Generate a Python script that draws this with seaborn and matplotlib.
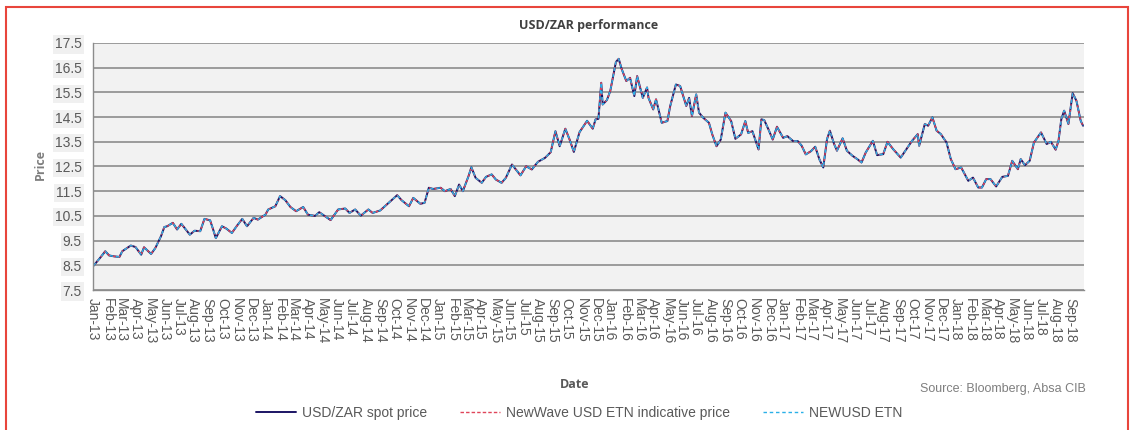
import pandas as pd
import matplotlib.pyplot as plt
import matplotlib.dates as mdates
from matplotlib.patches import Rectangle
import seaborn as sns

# =====================
# DATOS
# =====================

dates = [
    "2013-01-02", "2013-01-16", "2013-01-27", "2013-02-04", "2013-02-15", "2013-02-26",
    "2013-03-04", "2013-03-22", "2013-04-01", "2013-04-13", "2013-04-19", "2013-05-04",
    "2013-05-13", "2013-05-25", "2013-06-01", "2013-06-07", "2013-06-19", "2013-06-28",
    "2013-07-07", "2013-07-25", "2013-08-04", "2013-08-16", "2013-08-25", "2013-09-06",
    "2013-09-12", "2013-09-18", "2013-10-01", "2013-10-10", "2013-10-22", "2013-11-01",
    "2013-11-13", "2013-11-23", "2013-12-07", "2013-12-16", "2014-01-01", "2014-01-07",
    "2014-01-22", "2014-02-01", "2014-02-12", "2014-02-23", "2014-03-07", "2014-03-22",
    "2014-04-01", "2014-04-16", "2014-04-25", "2014-05-07", "2014-05-19", "2014-06-04",
    "2014-06-19", "2014-06-28", "2014-07-10", "2014-07-22", "2014-08-07", "2014-08-16",
    "2014-09-01", "2014-09-19", "2014-10-07", "2014-10-16", "2014-11-01", "2014-11-10",
    "2014-11-25", "2014-12-04", "2014-12-13", "2014-12-22", "2015-01-07", "2015-01-16",
    "2015-01-28", "2015-02-06", "2015-02-15", "2015-02-23", "2015-03-07", "2015-03-13",
    "2015-03-22", "2015-04-04", "2015-04-13", "2015-04-25", "2015-05-04", "2015-05-16",
    "2015-05-25", "2015-06-07", "2015-06-25", "2015-07-07", "2015-07-19", "2015-08-01",
    "2015-08-16", "2015-08-28", "2015-09-07", "2015-09-16", "2015-09-28", "2015-10-07",
    "2015-10-16", "2015-10-28", "2015-11-13", "2015-11-25", "2015-12-01", "2015-12-07",
    "2015-12-13", "2015-12-16", "2015-12-25", "2016-01-01", "2016-01-13", "2016-01-19",
    "2016-01-25", "2016-02-04", "2016-02-12", "2016-02-21", "2016-02-27", "2016-03-10",
    "2016-03-19", "2016-03-22", "2016-04-01", "2016-04-07", "2016-04-19", "2016-05-01",
    "2016-05-07", "2016-05-19", "2016-05-28", "2016-06-10", "2016-06-16", "2016-06-22",
    "2016-07-01", "2016-07-07", "2016-07-16", "2016-07-28", "2016-08-04", "2016-08-13",
    "2016-08-22", "2016-09-01", "2016-09-13", "2016-09-22", "2016-10-04", "2016-10-13",
    "2016-10-19", "2016-10-28", "2016-11-04", "2016-11-10", "2016-11-16", "2016-11-22",
    "2016-12-01", "2016-12-10", "2016-12-19", "2017-01-01", "2017-01-10", "2017-01-22",
    "2017-02-01", "2017-02-09", "2017-02-18", "2017-03-01", "2017-03-10", "2017-03-19",
    "2017-03-27", "2017-04-04", "2017-04-10", "2017-04-19", "2017-04-25", "2017-05-07",
    "2017-05-16", "2017-05-28", "2017-06-07", "2017-06-16", "2017-06-25", "2017-07-10",
    "2017-07-19", "2017-08-01", "2017-08-10", "2017-08-22", "2017-09-07", "2017-09-19",
    "2017-10-01", "2017-10-13", "2017-10-16", "2017-10-28", "2017-11-04", "2017-11-13",
    "2017-11-22", "2017-12-01", "2017-12-13", "2017-12-22", "2018-01-01", "2018-01-13",
    "2018-01-28", "2018-02-07", "2018-02-18", "2018-02-26", "2018-03-07", "2018-03-16",
    "2018-03-28", "2018-04-10", "2018-04-22", "2018-05-01", "2018-05-13", "2018-05-19",
    "2018-05-28", "2018-06-07", "2018-06-16", "2018-07-01", "2018-07-13", "2018-07-22",
    "2018-08-01", "2018-08-07", "2018-08-13", "2018-08-19", "2018-08-28", "2018-09-06",
    "2018-09-14", "2018-09-23", "2018-09-28",
]

spot_price = [
    8.48, 8.80, 9.07, 8.90, 8.86, 8.84,
    9.07, 9.30, 9.24, 8.93, 9.23, 8.96,
    9.20, 9.68, 10.05, 10.08, 10.22, 9.95,
    10.18, 9.74, 9.90, 9.88, 10.38, 10.32,
    9.97, 9.60, 10.08, 9.99, 9.81, 10.08,
    10.38, 10.08, 10.42, 10.35, 10.55, 10.76,
    10.89, 11.30, 11.14, 10.86, 10.69, 10.86,
    10.55, 10.50, 10.65, 10.49, 10.33, 10.76,
    10.80, 10.62, 10.76, 10.51, 10.76, 10.62,
    10.72, 11.03, 11.34, 11.14, 10.89, 11.23,
    10.99, 11.03, 11.64, 11.59, 11.64, 11.50,
    11.59, 11.30, 11.77, 11.50, 12.11, 12.47,
    12.04, 11.84, 12.08, 12.18, 11.97, 11.84,
    12.04, 12.58, 12.14, 12.51, 12.38, 12.69,
    12.85, 13.08, 13.93, 13.32, 14.03, 13.59,
    13.09, 13.89, 14.35, 14.03, 14.41, 14.43,
    15.89, 15.01, 15.19, 15.55, 16.73, 16.86,
    16.46, 15.96, 16.09, 15.35, 16.16, 15.28,
    15.70, 15.28, 14.81, 15.22, 14.27, 14.34,
    14.95, 15.82, 15.76, 14.95, 15.28, 14.54,
    15.42, 14.68, 14.47, 14.27, 13.80, 13.32,
    13.59, 14.68, 14.34, 13.62, 13.80, 14.34,
    13.86, 13.93, 13.53, 13.19, 14.41, 14.38,
    14.00, 13.59, 14.11, 13.66, 13.73, 13.53,
    13.53, 13.35, 12.99, 13.12, 13.30, 12.78,
    12.46, 13.61, 13.95, 13.41, 13.14, 13.64,
    13.14, 12.93, 12.80, 12.66, 13.07, 13.54,
    12.96, 13.00, 13.50, 13.20, 12.86, 13.20,
    13.54, 13.81, 13.34, 14.22, 14.15, 14.49,
    13.95, 13.81, 13.47, 12.80, 12.39, 12.46,
    11.92, 12.05, 11.65, 11.65, 11.99, 11.99,
    11.69, 12.08, 12.12, 12.73, 12.39, 12.80,
    12.55, 12.73, 13.47, 13.88, 13.41, 13.50,
    13.18, 13.54, 14.42, 14.76, 14.22, 15.47,
    15.16, 14.35, 14.15,
]

# los dos ETN siguen al spot tan de cerca que en el grafico no se separan
etn_indicative = list(spot_price)
newusd_etn = list(spot_price)

y_ticks = [7.5, 8.5, 9.5, 10.5, 11.5, 12.5, 13.5, 14.5, 15.5, 16.5, 17.5]

df = pd.DataFrame({
    "fecha": pd.to_datetime(dates),
    "spot": spot_price,
    "indicativo": etn_indicative,
    "newusd": newusd_etn,
})

# =====================
# GRAFICO
# =====================

sns.set_style("white")
plt.rcParams["font.family"] = ["Liberation Sans", "DejaVu Sans"]

gris = "#595959"
fig = plt.figure(figsize=(11.35, 4.3), dpi=100)
ax = fig.add_axes([93 / 1135, 1 - 290 / 430, (1084 - 93) / 1135, (290 - 43) / 430])
ax.set_facecolor("#f2f2f2")

sns.lineplot(data=df, x="fecha", y="spot", ax=ax, color="#1b1464", linewidth=1.4,
             label="USD/ZAR spot price")
sns.lineplot(data=df, x="fecha", y="indicativo", ax=ax, color="#e0455a", linewidth=1.0,
             linestyle=(0, (2.5, 1.5)), label="NewWave USD ETN indicative price")
sns.lineplot(data=df, x="fecha", y="newusd", ax=ax, color="#2ab0e8", linewidth=1.0,
             linestyle=(0, (2.5, 2.0)), label="NEWUSD ETN")

ax.set_ylim(7.5, 17.5)
ax.set_yticks(y_ticks)
ax.set_xlim(pd.Timestamp("2013-01-01"), pd.Timestamp("2018-09-30"))
ax.xaxis.set_major_locator(mdates.MonthLocator())
ax.xaxis.set_major_formatter(mdates.DateFormatter("%b-%y"))

ax.grid(axis="y", color="#8c8c8c", linewidth=1.2)
ax.grid(axis="x", visible=False)
ax.set_axisbelow(True)
for s in ["top", "right"]:
    ax.spines[s].set_visible(False)
for s in ["left", "bottom"]:
    ax.spines[s].set_color("#8c8c8c")
    ax.spines[s].set_linewidth(1.0)

ax.tick_params(axis="x", direction="out", length=4, color="#8c8c8c", labelsize=10,
               labelcolor=gris, labelrotation=-90, pad=2)
ax.tick_params(axis="y", direction="out", length=4, color="#8c8c8c", labelsize=10,
               labelcolor=gris, pad=4)
for lbl in ax.get_xticklabels():
    lbl.set_verticalalignment("top")
    lbl.set_horizontalalignment("center")
for lbl in ax.get_yticklabels():
    lbl.set_bbox(dict(facecolor="#f0f0f0", edgecolor="none", pad=1.5))

ax.set_xlabel("")
ax.set_ylabel("")
ax.legend_.remove()

fig.text(589 / 1135, 1 - 26 / 430, "USD/ZAR performance", ha="center", va="center",
         fontsize=9, fontweight="bold", color="#404040", family=["Open Sans", "DejaVu Sans"])
fig.text(40 / 1135, 1 - 165 / 430, "Price", ha="center", va="center", rotation=90,
         fontsize=9, fontweight="bold", color="#7f7f7f", family=["Open Sans", "DejaVu Sans"])
fig.text(575 / 1135, 1 - 384 / 430, "Date", ha="center", va="center",
         fontsize=9, fontweight="bold", color=gris, family=["Open Sans", "DejaVu Sans"])
fig.text(1086 / 1135, 1 - 389 / 430, "Source: Bloomberg, Absa CIB", ha="right", va="center",
         fontsize=9, color="#7f7f7f")

handles, labels = ax.get_legend_handles_labels()
fig.legend(handles, labels, loc="center", bbox_to_anchor=(579 / 1135, 1 - 413 / 430),
           ncol=3, frameon=False, fontsize=10, handlelength=2.9, handletextpad=0.4,
           columnspacing=2.4, labelcolor=gris)

# marco rojo del recuadro
fig.patches.append(Rectangle((6 / 1135, -0.1), (1128 - 6) / 1135, 1.1 - 7 / 430,
                             transform=fig.transFigure, fill=False,
                             edgecolor="#e8453c", linewidth=1.5))

fig.savefig("out.png", dpi=100)
